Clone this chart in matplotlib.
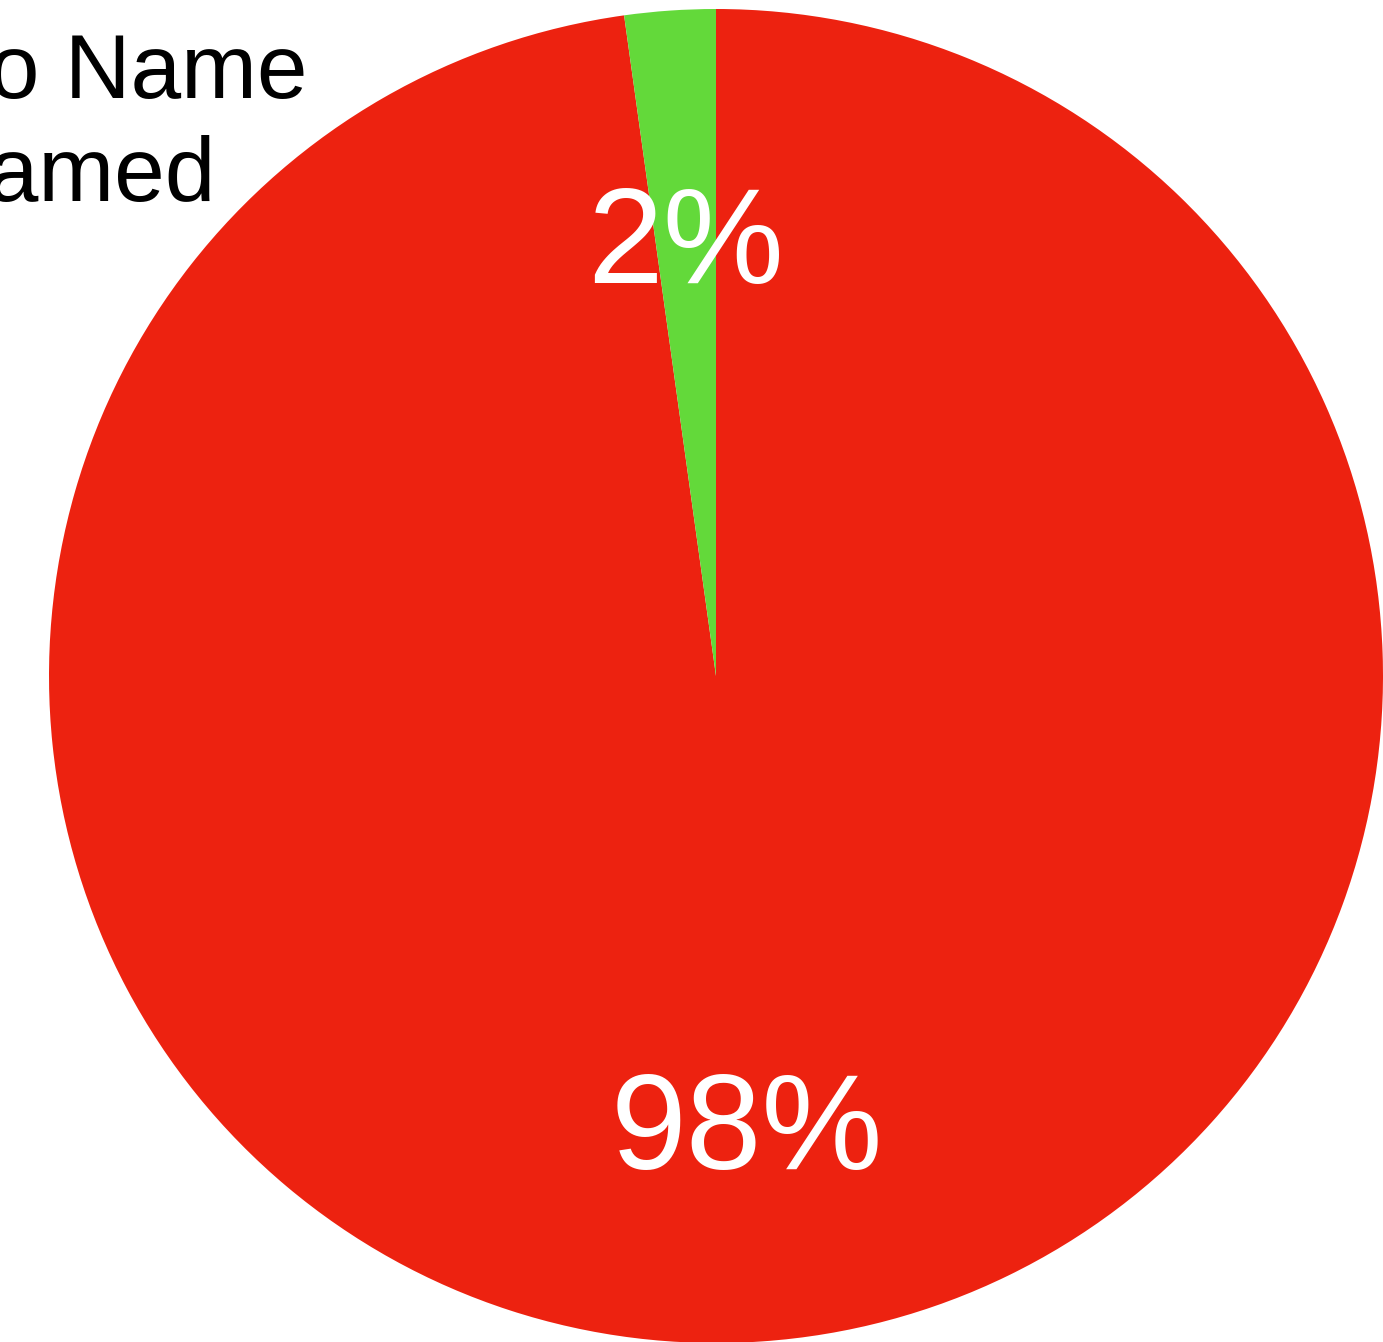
import matplotlib
matplotlib.use("Agg")
import matplotlib.pyplot as plt
from matplotlib.transforms import ScaledTranslation

labels = ['No Name', 'Named']
shares = [97.8, 2.2]
colors = ['#ED2210', '#63D93A']

plt.rcParams['font.family'] = ['Liberation Sans', 'DejaVu Sans']

fig = plt.figure(figsize=(13.83, 13.42), dpi=100)
# pie box: centre ~ (716, 676) px, radius ~667 px
ax = fig.add_axes([49 / 1383, -1 / 1342, 1334 / 1383, 1334 / 1342])

wedges, texts, autotexts = ax.pie(
    shares, labels=None, colors=colors, startangle=90, counterclock=False,
    autopct='%1.0f%%', pctdistance=0.666, radius=1,
    textprops={'color': 'white', 'fontsize': 98})
# nudge the percentages down a bit, the original font sits lower
shift = ScaledTranslation(0, -15 / 100, fig.dpi_scale_trans)
for t in autotexts:
    t.set_transform(t.get_transform() + shift)
ax.set_xlim(-1, 1)
ax.set_ylim(-1, 1)
ax.axis('off')

fig.legend(wedges, labels, loc='upper left', bbox_to_anchor=(-0.148, 0.976),
           frameon=False, fontsize=65.5, handlelength=1, handletextpad=0.4,
           borderpad=0, borderaxespad=0, labelspacing=0.2)

fig.savefig('out.png', dpi=100)
